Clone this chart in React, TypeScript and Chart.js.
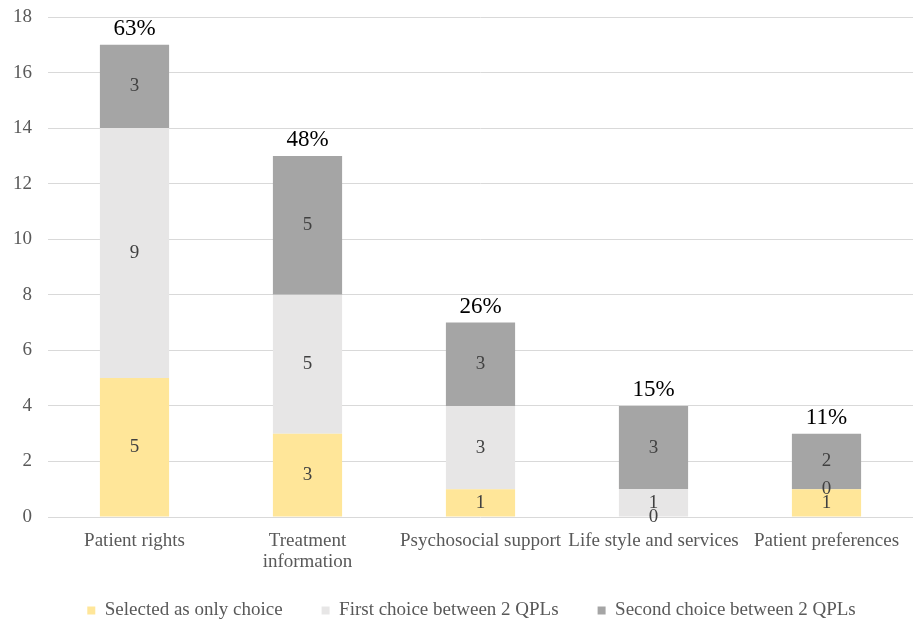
import React, { useEffect, useRef } from "react";
import { Chart, registerables } from "chart.js";

Chart.register(...registerables);

const categories: (string | string[])[] = [
  "Patient rights",
  ["Treatment", "information"],
  "Psychosocial support",
  "Life style and services",
  "Patient preferences",
];
const onlyChoice = [5, 3, 1, 0, 1];
const firstChoice = [9, 5, 3, 1, 0];
const secondChoice = [3, 5, 3, 3, 2];
const percentLabels = ["63%", "48%", "26%", "15%", "11%"];
const seriesNames = [
  "Selected as only choice",
  "First choice between 2 QPLs",
  "Second choice between 2 QPLs",
];

const FONT = '"Liberation Serif", "Times New Roman", serif';

const labelPlugin = {
  id: "barLabels",
  afterLayout(chart: any) {
    const lg = chart.legend;
    const xs = chart.scales.x;
    if (lg && xs) {
      lg.top = xs.top + 45;
      lg.bottom = chart.height;
      lg.height = lg.bottom - lg.top;
      lg.left = lg.left + 30;
      lg.width = lg.right - lg.left;
    }
  },
  afterDatasetsDraw(chart: any) {
    const ctx = chart.ctx;
    ctx.save();
    ctx.font = `19px ${FONT}`;
    ctx.fillStyle = "#404040";
    ctx.textAlign = "center";
    ctx.textBaseline = "middle";
    chart.data.datasets.forEach((ds: any, di: number) => {
      const meta = chart.getDatasetMeta(di);
      meta.data.forEach((el: any, i: number) => {
        const p = el.getProps(["x", "y", "base"], true);
        ctx.fillText(String(ds.data[i]), p.x, (p.y + p.base) / 2);
      });
    });
    const last = chart.getDatasetMeta(chart.data.datasets.length - 1);
    ctx.font = `23px ${FONT}`;
    ctx.fillStyle = "#000000";
    ctx.textBaseline = "alphabetic";
    last.data.forEach((el: any, i: number) => {
      const p = el.getProps(["x", "y"], true);
      ctx.fillText(percentLabels[i], p.x, p.y - 10);
    });
    ctx.restore();
  },
};

export default function App() {
  const ref = useRef<HTMLCanvasElement>(null);
  useEffect(() => {
    if (!ref.current) return;
    const chart = new Chart(ref.current, {
      type: "bar",
      data: {
        labels: categories as any,
        datasets: [
          { label: seriesNames[0], data: onlyChoice, backgroundColor: "#FFE699", borderWidth: 0 },
          { label: seriesNames[1], data: firstChoice, backgroundColor: "#E7E6E6", borderWidth: 0 },
          { label: seriesNames[2], data: secondChoice, backgroundColor: "#A5A5A5", borderWidth: 0 },
        ],
      },
      options: {
        animation: false,
        responsive: false,
        maintainAspectRatio: false,
        datasets: { bar: { categoryPercentage: 1, barPercentage: 0.4 } },
        layout: { padding: { top: 17, right: 0, left: 0, bottom: 12 } },
        scales: {
          x: {
            stacked: true,
            grid: { display: false },
            border: { display: false },
            ticks: {
              color: "#595959",
              font: { family: FONT, size: 19, lineHeight: 1.1 },
              padding: 6,
              maxRotation: 0,
              autoSkip: false,
            },
            afterFit(scale: any) {
              scale.height = 58;
            },
          },
          y: {
            stacked: true,
            min: 0,
            max: 18,
            ticks: {
              stepSize: 2,
              color: "#595959",
              font: { family: FONT, size: 19 },
              padding: 16,
            },
            grid: { color: "#D9D9D9", lineWidth: 1, drawTicks: false },
            border: { display: false },
            afterFit(scale: any) {
              scale.width = 48;
              scale.paddingTop = 0;
              scale.paddingBottom = 0;
            },
          },
        },
        plugins: {
          legend: {
            position: "bottom",
            maxHeight: 40,
            labels: {
              boxWidth: 8,
              boxHeight: 8,
              padding: 39,
              color: "#595959",
              font: { family: FONT, size: 19 },
            },
          },
          tooltip: { enabled: false },
        },
      },
      plugins: [labelPlugin],
    });
    return () => chart.destroy();
  }, []);
  return (
    <div style={{ position: "fixed", left: 0, top: 0, width: 913, height: 627, background: "#fff" }}>
      <canvas ref={ref} width={913} height={627} style={{ width: 913, height: 627 }} />
    </div>
  );
}
